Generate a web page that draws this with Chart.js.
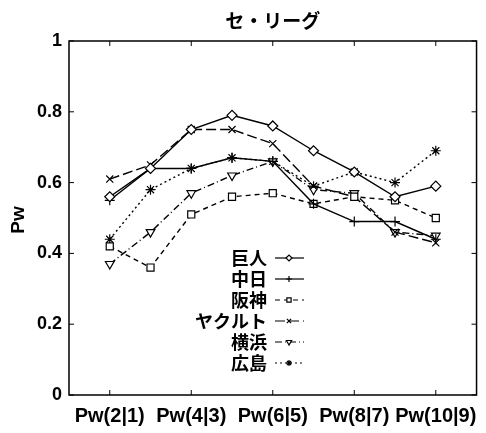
<!DOCTYPE html>
<html>
<head>
<meta charset="utf-8">
<script src="https://cdn.jsdelivr.net/npm/chart.js"></script>
<style>
    body{ margin:0; background:#fff; }
    #wrap{ width:486px; height:433px; }
</style>
</head>
<body>
<div id="wrap"><canvas id="graph_data" width="486" height="433"></canvas></div>
<script>
// data
const chartTitle = 'セ・リーグ';
const yTitle = 'Pw';
const categories = ['Pw(2|1)', 'Pw(3|2)', 'Pw(4|3)', 'Pw(5|4)', 'Pw(6|5)', 'Pw(7|6)', 'Pw(8|7)', 'Pw(9|8)', 'Pw(10|9)'];
const xTickLabels = ['Pw(2|1)', 'Pw(4|3)', 'Pw(6|5)', 'Pw(8|7)', 'Pw(10|9)'];
const yTicks = [0, 0.2, 0.4, 0.6, 0.8, 1];
const teams = ['巨人', '中日', '阪神', 'ヤクルト', '横浜', '広島'];

const giants  = [0.56, 0.64, 0.75, 0.79, 0.76, 0.69, 0.63, 0.56, 0.59];
const chunichi = [0.55, 0.64, 0.64, 0.67, 0.66, 0.54, 0.49, 0.49, 0.44];
const hanshin = [0.42, 0.36, 0.51, 0.56, 0.57, 0.54, 0.56, 0.55, 0.50];
const yakult  = [0.61, 0.65, 0.75, 0.75, 0.71, 0.59, 0.56, 0.46, 0.43];
const yokohama = [0.37, 0.46, 0.57, 0.62, 0.66, 0.58, 0.57, 0.46, 0.45];
const hiroshima = [0.44, 0.58, 0.64, 0.67, 0.66, 0.59, 0.63, 0.60, 0.69];

const series = [giants, chunichi, hanshin, yakult, yokohama, hiroshima];

// gnuplot-ish line / point types
const styles = [
    {dash: [], point: 'rectRot', rot: 0},
    {dash: [], point: 'cross', rot: 0},
    {dash: [5, 4], point: 'rect', rot: 0},
    {dash: [10, 4], point: 'crossRot', rot: 0},
    {dash: [7, 3, 1, 3], point: 'triangle', rot: 180},
    {dash: [2, 3], point: 'star', rot: 0}
];

const latin = '"Liberation Sans", Arial, sans-serif';
const jpFont = '"Noto Sans CJK JP", sans-serif';

function xIndex(label){
    return categories.indexOf(label) + 1;
}

// frame with inward ticks on all four sides
const framePlugin = {
    id: 'frame',
    beforeDatasetsDraw(chart){
        const ctx = chart.ctx;
        const a = chart.chartArea;
        const xs = chart.scales.x;
        const ys = chart.scales.y;
        ctx.save();
        ctx.strokeStyle = '#000';
        ctx.lineWidth = 1.5;
        ctx.strokeRect(a.left, a.top, a.right - a.left, a.bottom - a.top);
        ctx.lineWidth = 1;
        ctx.beginPath();
        xTickLabels.forEach(function(l){
            const px = xs.getPixelForValue(xIndex(l));
            ctx.moveTo(px, a.bottom); ctx.lineTo(px, a.bottom - 5);
            ctx.moveTo(px, a.top); ctx.lineTo(px, a.top + 5);
        });
        yTicks.forEach(function(v){
            const py = ys.getPixelForValue(v);
            ctx.moveTo(a.left, py); ctx.lineTo(a.left + 5, py);
            ctx.moveTo(a.right, py); ctx.lineTo(a.right - 5, py);
        });
        ctx.stroke();
        ctx.restore();
    }
};

// title, y label and the legend inside the plot
const textPlugin = {
    id: 'texts',
    afterDraw(chart){
        const ctx = chart.ctx;
        const a = chart.chartArea;
        ctx.save();
        ctx.fillStyle = '#000';
        ctx.textBaseline = 'middle';
        ctx.textAlign = 'center';
        ctx.font = 'bold 19px ' + jpFont;
        ctx.fillText(chartTitle, (a.left + a.right) / 2, 21);

        // rotated y title
        ctx.save();
        ctx.translate(19, 220);
        ctx.rotate(-Math.PI / 2);
        ctx.font = 'bold 19px ' + latin;
        ctx.fillText(yTitle, 0, 0);
        ctx.restore();

        // legend
        chart.data.datasets.forEach(function(ds, k){
            const y = a.top + 217 + k * 21;
            const tx = a.left + 198;
            ctx.textAlign = 'right';
            ctx.textBaseline = 'middle';
            ctx.font = 'bold 18px ' + jpFont;
            ctx.fillText(ds.label, tx, y);
            ctx.strokeStyle = '#000';
            ctx.lineWidth = 1.2;
            ctx.setLineDash(styles[k].dash);
            ctx.beginPath();
            ctx.moveTo(tx + 8, y);
            ctx.lineTo(tx + 37, y);
            ctx.stroke();
            ctx.setLineDash([]);
            if(Chart.helpers && Chart.helpers.drawPoint){
                ctx.fillStyle = '#fff';
                Chart.helpers.drawPoint(ctx, {pointStyle: styles[k].point, radius: 3, rotation: styles[k].rot, borderWidth: 1}, tx + 22, y);
                ctx.fillStyle = '#000';
            }
        });
        ctx.restore();
    }
};

function graph(){
    const datasets = teams.map(function(t, k){
        return {
            label: t,
            data: series[k].map(function(v, i){ return {x: xIndex(categories[i]), y: v}; }),
            borderColor: '#000',
            borderWidth: 1.4,
            borderDash: styles[k].dash,
            pointStyle: styles[k].point,
            pointRotation: styles[k].rot,
            pointRadius: 5,
            pointBorderWidth: 1.2,
            pointBorderColor: '#000',
            pointBackgroundColor: '#fff',
            fill: false,
            tension: 0
        };
    });

    const line = {
        type: 'line',
        data: {datasets: datasets},
        options: {
            responsive: false,
            animation: false,
            layout: {padding: {top: 41, right: 3, left: 0, bottom: 0}},
            plugins: {
                legend: {display: false},
                title: {display: false},
                tooltip: {enabled: false}
            },
            scales: {
                x: {
                    type: 'linear',
                    min: 0,
                    max: categories.length + 1,
                    grid: {display: false, drawTicks: false},
                    border: {display: false},
                    afterBuildTicks: function(scale){
                        scale.ticks = xTickLabels.map(function(l){ return {value: xIndex(l)}; });
                    },
                    afterFit: function(scale){ scale.height = 38; },
                    ticks: {
                        color: '#000',
                        font: {family: latin, size: 20, weight: 'bold'},
                        padding: 9,
                        maxRotation: 0,
                        autoSkip: false,
                        callback: function(v){ return categories[v - 1]; }
                    }
                },
                y: {
                    min: 0,
                    max: 1,
                    grid: {display: false, drawTicks: false},
                    border: {display: false},
                    afterBuildTicks: function(scale){
                        scale.ticks = yTicks.map(function(v){ return {value: v}; });
                    },
                    afterFit: function(scale){ scale.width = 69; },
                    ticks: {
                        color: '#000',
                        font: {family: latin, size: 18, weight: 'bold'},
                        padding: 7,
                        callback: function(v){ return String(Math.round(v * 10) / 10); }
                    }
                }
            }
        },
        plugins: [framePlugin, textPlugin]
    };

    new Chart(document.getElementById('graph_data'), line);
}

graph();
</script>
</body>
</html>
